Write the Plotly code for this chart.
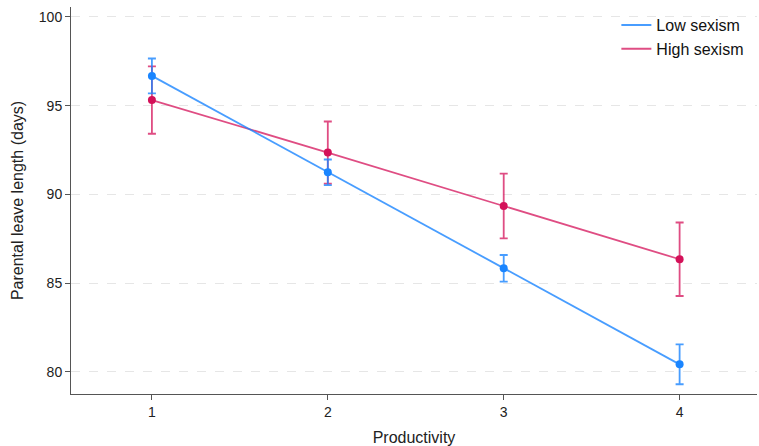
import plotly.graph_objects as go

productivity = [1, 2, 3, 4]
low_sexism = [96.68, 91.25, 85.84, 80.43]
low_err = [0.98, 0.72, 0.75, 1.12]
high_sexism = [95.32, 92.36, 89.35, 86.35]
high_err = [1.90, 1.75, 1.82, 2.07]
y_ticks = [80, 85, 90, 95, 100]

blue = "#1A85FF"
red = "#D41159"
blue_line = "rgba(26,133,255,0.8)"
red_line = "rgba(212,17,89,0.75)"

fig = go.Figure()
for name, vals, errs, col, lcol in [
    ("High sexism", high_sexism, high_err, red, red_line),
    ("Low sexism", low_sexism, low_err, blue, blue_line),
]:
    fig.add_trace(go.Scatter(
        x=productivity, y=vals, mode="lines+markers", name=name,
        line=dict(color=lcol, width=1.8),
        marker=dict(color=col, size=8),
        error_y=dict(type="data", array=errs, color=lcol, thickness=1.8, width=4),
        showlegend=False,
    ))

for name, col in [("Low sexism", blue_line), ("High sexism", red_line)]:
    fig.add_trace(go.Scatter(
        x=[None], y=[None], mode="lines", name=name,
        line=dict(color=col, width=2),
    ))

fig.update_layout(
    width=759, height=446,
    margin=dict(l=71, r=2, t=7, b=52),
    paper_bgcolor="white", plot_bgcolor="white",
    font=dict(family="Liberation Sans, Arial, sans-serif", color="#222222", size=14),
    legend=dict(x=0.795, y=0.997, xanchor="left", yanchor="top",
                font=dict(size=16, color="#111111"), bgcolor="rgba(0,0,0,0)",
                tracegroupgap=0, itemwidth=30),
    xaxis=dict(
        range=[0.54, 4.44], tickvals=productivity, ticktext=[str(v) for v in productivity],
        showgrid=False, zeroline=False, showline=True, linecolor="#555555", linewidth=1,
        ticks="outside", ticklen=5, tickcolor="#555555", automargin=False,
        tickfont=dict(size=14),
        title=dict(text="Productivity", font=dict(size=16), standoff=13),
    ),
    yaxis=dict(
        range=[78.76, 100.56], tickvals=y_ticks,
        showgrid=True, gridcolor="#e6e6e6", griddash="dash", gridwidth=1,
        zeroline=False, showline=True, linecolor="#555555", linewidth=1,
        ticks="outside", ticklen=5, tickcolor="#555555", automargin=False,
        tickfont=dict(size=14),
        title=dict(text="Parental leave length (days)", font=dict(size=16), standoff=11),
    ),
)

fig.write_html("out.html", config={"displayModeBar": False},
               post_script="document.body.style.margin='0';")
